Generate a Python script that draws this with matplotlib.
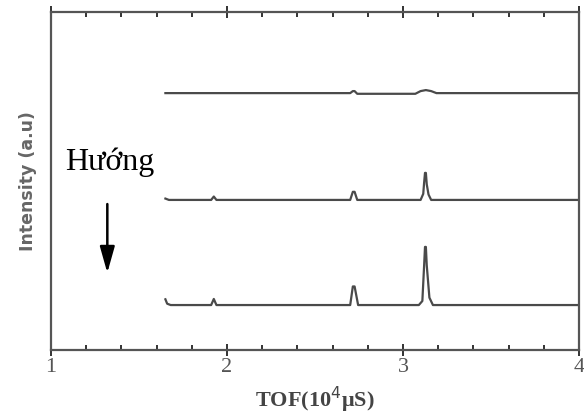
import matplotlib
matplotlib.use('Agg')
from matplotlib import pyplot as plt
from matplotlib.ticker import MultipleLocator

# spectra, as (TOF, intensity) vertices, offset per trace
top_x = [1.65, 2.70, 2.715, 2.725, 2.74, 3.07, 3.10, 3.13, 3.16, 3.19, 4.0]
top_y = [7.60, 7.60, 7.66, 7.66, 7.58, 7.58, 7.66, 7.69, 7.66, 7.60, 7.60]

mid_x = [1.65, 1.67, 1.91, 1.925, 1.94, 2.70, 2.715, 2.725, 2.74,
         3.10, 3.115, 3.12, 3.125, 3.13, 3.135, 3.145, 3.16, 4.0]
mid_y = [4.48, 4.44, 4.44, 4.54, 4.44, 4.44, 4.68, 4.68, 4.44,
         4.44, 4.62, 4.95, 5.24, 5.24, 4.90, 4.60, 4.44, 4.44]

bot_x = [1.65, 1.66, 1.68, 1.91, 1.925, 1.94, 2.70, 2.715, 2.725, 2.745,
         3.09, 3.11, 3.12, 3.125, 3.13, 3.135, 3.15, 3.17, 4.0]
bot_y = [1.50, 1.37, 1.33, 1.33, 1.51, 1.33, 1.33, 1.88, 1.88, 1.33,
         1.33, 1.45, 2.50, 3.05, 3.05, 2.50, 1.55, 1.33, 1.33]

arrow_x = 1.32
arrow_from = 4.40
arrow_to = 2.2

fig = plt.figure(figsize=(5.84, 4.15), dpi=100)
ax = fig.add_axes([51 / 584, 1 - 350 / 415, 528 / 584, 338 / 415])

line_col = '#4a4a4a'
for xs, ys in [(top_x, top_y), (mid_x, mid_y), (bot_x, bot_y)]:
    ax.plot(xs, ys, color=line_col, lw=1.6, solid_joinstyle='round')

ax.annotate('', xy=(arrow_x, arrow_to), xytext=(arrow_x, arrow_from),
            arrowprops=dict(arrowstyle='-|>,head_length=1.6,head_width=0.45',
                            color='black', lw=1.8))
ax.text(1.08, 5.55, 'Hướng', fontsize=23, family='Liberation Serif',
        color='black', va='center', ha='left')

ax.set_xlim(1, 4)
ax.set_ylim(0, 10)
ax.xaxis.set_major_locator(MultipleLocator(1))
ax.xaxis.set_minor_locator(MultipleLocator(0.2))
ax.set_yticks([])
ax.tick_params(axis='x', which='major', direction='inout', length=9, width=1.4,
               top=True, color='#333333', labelsize=16, labelcolor='#555555', pad=1)
ax.tick_params(axis='x', which='minor', direction='in', length=3.5, width=1.4,
               top=True, color='#333333')
for lab in ax.get_xticklabels():
    lab.set_family('Liberation Serif')
for sp in ax.spines.values():
    sp.set_color('#555555')
    sp.set_linewidth(1.6)

ax.set_xlabel('TOF(10$^4$μS)', fontsize=16, family='Liberation Serif',
              fontweight='bold', color='#444444', labelpad=6)
ax.set_ylabel('Intensity (a.u)', fontsize=12.5, fontweight='bold',
              color='#666666', labelpad=10)

fig.savefig('out.png', dpi=100)
